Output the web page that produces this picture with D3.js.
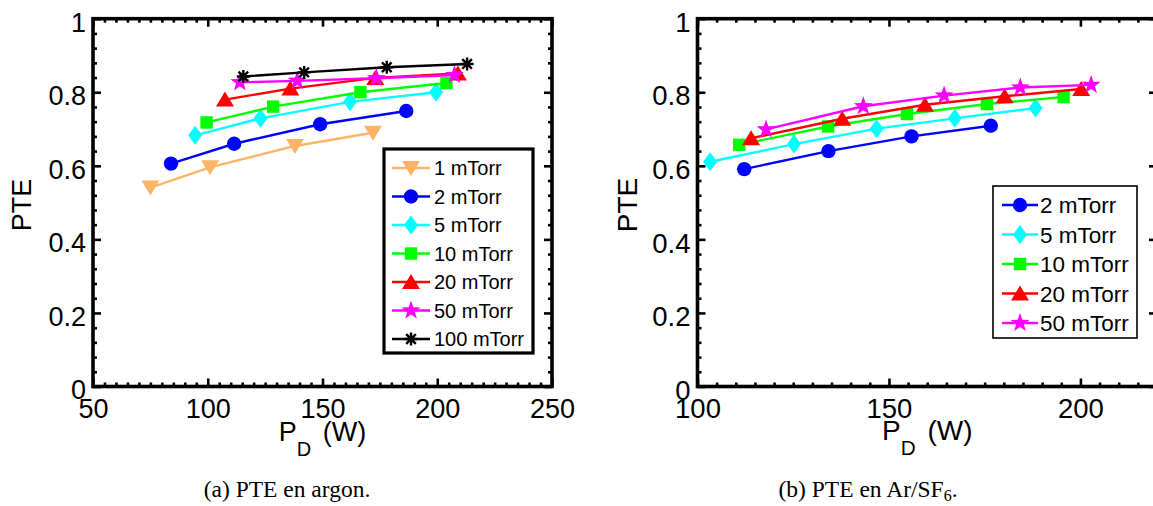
<!DOCTYPE html>
<html>
<head>
<meta charset="utf-8">
<script src="https://cdn.jsdelivr.net/npm/d3@7"></script>
<style>
  html, body { margin: 0; padding: 0; background: #fff; }
  svg { display: block; }
</style>
</head>
<body>
<svg id="chart" width="1153" height="506"></svg>
<script>
// ---------- DATA ----------
// (a) PTE in argon : [P_D (W), PTE]
const argon_1  = [[75, 0.541], [101, 0.596], [138, 0.654], [172, 0.690]];
const argon_2  = [[84, 0.606], [111.5, 0.660], [149, 0.713], [186.5, 0.749]];
const argon_5  = [[94.5, 0.683], [123, 0.729], [162, 0.774], [199.5, 0.800]];
const argon_10 = [[99.5, 0.718], [128.5, 0.761], [166.5, 0.800], [204, 0.825]];
const argon_20 = [[107.5, 0.780], [136, 0.810], [173, 0.839], [209, 0.851]];
const argon_50 = [[114, 0.827], [139, 0.831], [173.5, 0.838], [207.5, 0.847]];
const argon_100 = [[115.5, 0.843], [142, 0.854], [178, 0.868], [213, 0.877]];

// (b) PTE in Ar/SF6
const sf6_2  = [[112.2, 0.591], [134.2, 0.640], [155.9, 0.680], [176.6, 0.709]];
const sf6_5  = [[103.3, 0.611], [125.2, 0.659], [146.8, 0.701], [167.2, 0.729], [188.3, 0.757]];
const sf6_10 = [[110.9, 0.657], [134.1, 0.707], [154.7, 0.741], [175.6, 0.768], [195.6, 0.787]];
const sf6_20 = [[114, 0.675], [137.8, 0.728], [159.4, 0.766], [180.2, 0.789], [200.2, 0.809]];
const sf6_50 = [[117.9, 0.699], [143.3, 0.762], [164.4, 0.791], [184.3, 0.813], [202.8, 0.820]];

const argonLabels = ["1 mTorr", "2 mTorr", "5 mTorr", "10 mTorr", "20 mTorr", "50 mTorr", "100 mTorr"];
const sf6Labels = ["2 mTorr", "5 mTorr", "10 mTorr", "20 mTorr", "50 mTorr"];

const xTicksA = [50, 100, 150, 200, 250];
const xTicksB = [100, 150, 200];
const yTicks = [0, 0.2, 0.4, 0.6, 0.8, 1];
const yTickLabels = ["0", "0.2", "0.4", "0.6", "0.8", "1"];

const captionA = "(a) PTE en argon.";
const captionB = ["(b) PTE en Ar/SF", "6", "."];

// ---------- STYLES ----------
const styleOf = {
  "1 mTorr":   { color: "#FFB366", marker: "tridown" },
  "2 mTorr":   { color: "#0000FF", marker: "circle" },
  "5 mTorr":   { color: "#00FFFF", marker: "diamond" },
  "10 mTorr":  { color: "#00FF00", marker: "square" },
  "20 mTorr":  { color: "#FF0000", marker: "triup" },
  "50 mTorr":  { color: "#FF00FF", marker: "star" },
  "100 mTorr": { color: "#000000", marker: "asterisk" }
};

const svg = d3.select("#chart");
svg.append("rect").attr("width", 1153).attr("height", 506).attr("fill", "#fff");

const SANS = "'Liberation Sans', Arial, Helvetica, sans-serif";
const SERIF = "'Liberation Serif', 'Times New Roman', serif";

function drawMarker(g, type, color, x, y) {
  if (type === "circle") {
    g.append("circle").attr("cx", x).attr("cy", y).attr("r", 7.2).attr("fill", color);
  } else if (type === "square") {
    g.append("rect").attr("x", x - 6.2).attr("y", y - 6.2).attr("width", 12.4).attr("height", 12.4).attr("fill", color);
  } else if (type === "diamond") {
    g.append("path").attr("d", `M${x},${y - 9.5}L${x + 7},${y}L${x},${y + 9.5}L${x - 7},${y}Z`).attr("fill", color);
  } else if (type === "triup") {
    g.append("path").attr("d", `M${x},${y - 8}L${x + 9},${y + 7}L${x - 9},${y + 7}Z`).attr("fill", color);
  } else if (type === "tridown") {
    g.append("path").attr("d", `M${x},${y + 8}L${x + 9},${y - 7}L${x - 9},${y - 7}Z`).attr("fill", color);
  } else if (type === "star") {
    const pts = [];
    for (let i = 0; i < 10; i++) {
      const r = i % 2 === 0 ? 10 : 4;
      const a = -Math.PI / 2 + i * Math.PI / 5;
      pts.push([x + r * Math.cos(a), y + r * Math.sin(a)]);
    }
    g.append("path").attr("d", "M" + pts.map(p => p.join(",")).join("L") + "Z").attr("fill", color);
  } else if (type === "asterisk") {
    const r = 6.5, d = 4.8;
    const p = `M${x - r},${y}L${x + r},${y}M${x},${y - r}L${x},${y + r}M${x - d},${y - d}L${x + d},${y + d}M${x - d},${y + d}L${x + d},${y - d}`;
    g.append("path").attr("d", p).attr("stroke", color).attr("stroke-width", 2.4).attr("fill", "none");
  }
}

function panel(cfg) {
  const g = svg.append("g");
  const x = d3.scaleLinear().domain(cfg.xDomain).range(cfg.xRange);
  const y = d3.scaleLinear().domain([0, 1]).range([386.5, 18.7]);
  const [x0, x1] = cfg.xRange;
  const y0 = 386.5, y1 = 18.7;

  const clipId = "clip" + cfg.id;
  svg.append("clipPath").attr("id", clipId).append("rect")
    .attr("x", x0).attr("y", y1).attr("width", x1 - x0).attr("height", y0 - y1);

  const minorX = d3.range(cfg.xDomain[0], cfg.xDomain[1] + 0.001, 5).filter(v => !cfg.xTicks.includes(v));
  const minorY = d3.range(0, 1.0001, 0.04).map(v => +v.toFixed(2)).filter(v => !yTicks.some(t => Math.abs(t - v) < 1e-6));

  const tickStyle = sel => {
    sel.select(".domain").remove();
    sel.selectAll(".tick line").attr("stroke", "#000").attr("stroke-width", 2.6);
  };

  // bottom
  g.append("g").attr("transform", `translate(0,${y0})`)
    .call(d3.axisBottom(x).tickValues(cfg.xTicks).tickSizeInner(-8).tickSizeOuter(0).tickPadding(12).tickFormat(d3.format("d")))
    .call(tickStyle)
    .call(s => s.selectAll("text").attr("font-family", SANS).attr("font-size", cfg.tickFont).attr("fill", "#000"));
  g.append("g").attr("transform", `translate(0,${y0})`)
    .call(d3.axisBottom(x).tickValues(minorX).tickSizeInner(-4).tickSizeOuter(0).tickFormat(""))
    .call(tickStyle);
  // top
  g.append("g").attr("transform", `translate(0,${y1})`)
    .call(d3.axisTop(x).tickValues(cfg.xTicks).tickSizeInner(-8).tickSizeOuter(0).tickFormat(""))
    .call(tickStyle);
  g.append("g").attr("transform", `translate(0,${y1})`)
    .call(d3.axisTop(x).tickValues(minorX).tickSizeInner(-4).tickSizeOuter(0).tickFormat(""))
    .call(tickStyle);
  // left
  g.append("g").attr("transform", `translate(${x0},0)`)
    .call(d3.axisLeft(y).tickValues(yTicks).tickSizeInner(-8).tickSizeOuter(0).tickPadding(7).tickFormat((d, i) => yTickLabels[i]))
    .call(tickStyle)
    .call(s => s.selectAll("text").attr("font-family", SANS).attr("font-size", cfg.tickFont).attr("fill", "#000").attr("dy", "0.46em"));
  g.append("g").attr("transform", `translate(${x0},0)`)
    .call(d3.axisLeft(y).tickValues(minorY).tickSizeInner(-4).tickSizeOuter(0).tickFormat(""))
    .call(tickStyle);
  // right
  g.append("g").attr("transform", `translate(${x1},0)`)
    .call(d3.axisRight(y).tickValues(yTicks).tickSizeInner(-8).tickSizeOuter(0).tickFormat(""))
    .call(tickStyle);
  g.append("g").attr("transform", `translate(${x1},0)`)
    .call(d3.axisRight(y).tickValues(minorY).tickSizeInner(-4).tickSizeOuter(0).tickFormat(""))
    .call(tickStyle);

  // box
  g.append("rect").attr("x", x0).attr("y", y1).attr("width", x1 - x0).attr("height", y0 - y1)
    .attr("fill", "none").attr("stroke", "#000").attr("stroke-width", 3.6);

  // series
  const dg = g.append("g").attr("clip-path", `url(#${clipId})`);
  const line = d3.line().x(d => x(d[0])).y(d => y(d[1]));
  cfg.series.forEach((data, i) => {
    const st = styleOf[cfg.labels[i]];
    dg.append("path").datum(data).attr("d", line).attr("fill", "none")
      .attr("stroke", st.color).attr("stroke-width", 2.4);
    data.forEach(d => drawMarker(dg, st.marker, st.color, x(d[0]), y(d[1])));
  });

  // legend
  const L = cfg.legend;
  const lg = g.append("g");
  lg.append("rect").attr("x", L.x).attr("y", L.y).attr("width", L.w).attr("height", L.h)
    .attr("fill", "#fff").attr("stroke", "#000").attr("stroke-width", L.stroke);
  cfg.labels.forEach((lab, i) => {
    const st = styleOf[lab];
    const cy = L.row0 + i * L.step;
    lg.append("line").attr("x1", L.lx0).attr("x2", L.lx1).attr("y1", cy).attr("y2", cy)
      .attr("stroke", st.color).attr("stroke-width", 2.4);
    drawMarker(lg, st.marker, st.color, (L.lx0 + L.lx1) / 2, cy);
    lg.append("text").attr("x", L.tx).attr("y", cy).attr("dy", "0.36em")
      .attr("font-family", SANS).attr("font-size", L.font).attr("fill", "#000").text(lab);
  });

  // axis labels
  const xl = g.append("text").attr("x", (x0 + x1) / 2).attr("y", cfg.xLabelY)
    .attr("text-anchor", "middle").attr("font-family", SANS).attr("font-size", cfg.labelFont).attr("fill", "#000");
  xl.append("tspan").text("P");
  xl.append("tspan").attr("font-size", cfg.labelFont * 0.74).attr("dy", 15).text("D");
  xl.append("tspan").attr("dy", -15).attr("dx", 4).text(" (W)");

  g.append("text").attr("transform", `translate(${cfg.yLabelX},205) rotate(-90)`)
    .attr("text-anchor", "middle").attr("dy", "0.36em")
    .attr("font-family", SANS).attr("font-size", cfg.labelFont).attr("fill", "#000").text("PTE");
}

panel({
  id: "A", xDomain: [50, 250], xRange: [93, 552], xTicks: xTicksA,
  series: [argon_1, argon_2, argon_5, argon_10, argon_20, argon_50, argon_100],
  labels: argonLabels, tickFont: 27, labelFont: 27, xLabelY: 441, yLabelX: 21,
  legend: { x: 384, y: 149, w: 149, h: 204, stroke: 3.2, row0: 168, step: 28.5, lx0: 392, lx1: 430, tx: 434, font: 20 }
});

panel({
  id: "B", xDomain: [100, 220], xRange: [697.5, 1157], xTicks: xTicksB,
  series: [sf6_2, sf6_5, sf6_10, sf6_20, sf6_50],
  labels: sf6Labels, tickFont: 27.5, labelFont: 28, xLabelY: 440, yLabelX: 627,
  legend: { x: 993, y: 186, w: 144, h: 152, stroke: 1.6, row0: 205, step: 29.5, lx0: 1002, lx1: 1038, tx: 1040, font: 22.5 }
});

// captions
svg.append("text").attr("x", 287).attr("y", 497).attr("text-anchor", "middle")
  .attr("font-family", SERIF).attr("font-size", 23.5).attr("fill", "#000").text(captionA);
const cb = svg.append("text").attr("x", 868).attr("y", 497).attr("text-anchor", "middle")
  .attr("font-family", SERIF).attr("font-size", 23.5).attr("fill", "#000");
cb.append("tspan").text(captionB[0]);
cb.append("tspan").attr("font-size", 16).attr("dy", 4).text(captionB[1]);
cb.append("tspan").attr("dy", -4).text(captionB[2]);
</script>
</body>
</html>
